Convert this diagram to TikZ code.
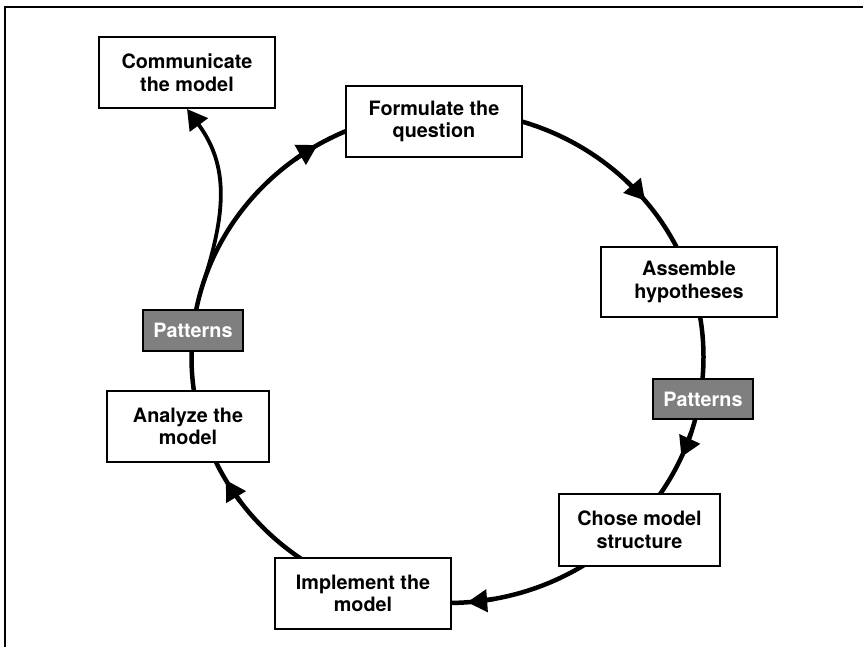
\documentclass[tikz,border=0pt]{standalone}
\usepackage{fontspec}
\setmainfont{TeX Gyre Heros}
\usetikzlibrary{arrows.meta,calc}
\definecolor{patgray}{HTML}{7F7F7F}
\begin{document}
\begin{tikzpicture}[x=1pt,y=1pt,
  box/.style={draw, line width=2pt, fill=white, align=center, inner sep=0pt,
    font=\fontsize{19.8}{22.7}\selectfont\bfseries},
  patbox/.style={draw, line width=2pt, fill=patgray, text=white, inner sep=0pt,
    minimum width=100pt, minimum height=40pt, font=\fontsize{19.8}{22.7}\selectfont\bfseries},
  ring/.style={line width=4.5pt},
  tipline/.style={line width=4.5pt, -{Triangle[length=20pt,width=22pt]}}]
\useasboundingbox (0,0) rectangle (863,647);
\draw[line width=2pt] (5,-2) -- (5,640) -- (866,640);
\coordinate (c) at (447.5,290);
\draw[ring] (c) ellipse [x radius=256, y radius=246];
\node[box, minimum width=176pt, minimum height=71pt] (comm) at (187,574.5) {Communicate\\the model};
\node[box, minimum width=176pt, minimum height=71pt] (form) at (434,525.5) {Formulate the\\question};
\node[box, minimum width=176pt, minimum height=70pt] (assem) at (689,365) {Assemble\\hypotheses};
\node[patbox] (patR) at (703,248) {Patterns};
\node[box, minimum width=161pt, minimum height=72pt] (chose) at (639.5,117) {Chose model\\structure};
\node[box, minimum width=176pt, minimum height=71pt] (impl) at (363,53.5) {Implement the\\model};
\node[box, minimum width=162pt, minimum height=71pt] (anal) at (188,220.5) {Analyze the\\model};
\node[patbox, minimum height=41pt] (patL) at (193,316.5) {Patterns};
\foreach \t in {120.5,39.5,-24,-85.6,210}
  \draw[tipline] ($(c)+(\t+6:256 and 246)$) arc[start angle=\t+6, end angle=\t, x radius=256, y radius=246];
\coordinate (br) at ($(c)+(162.5:256 and 246)$);
\draw[line width=3.8pt, -{Triangle[length=20pt,width=22pt]}] (br) .. controls (225,432) and (230,480) .. (comm.south);
\end{tikzpicture}
\end{document}
